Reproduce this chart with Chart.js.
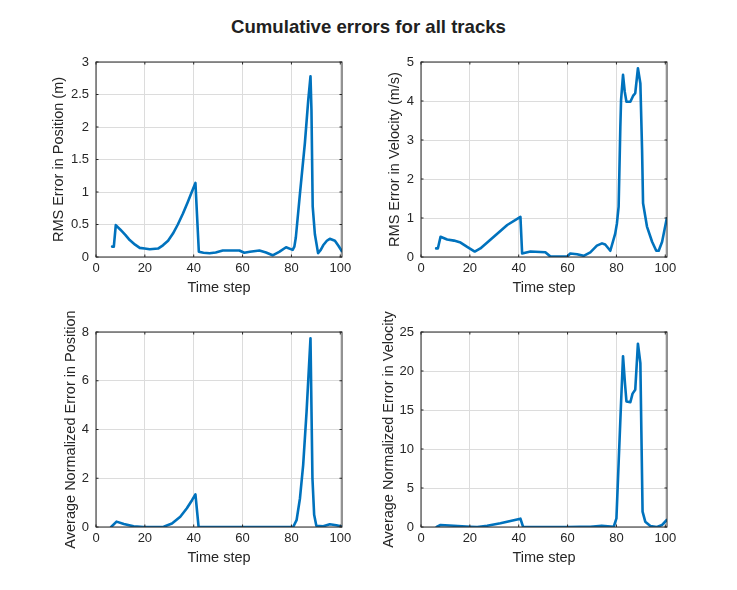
<!DOCTYPE html>
<html>
<head>
<meta charset="utf-8">
<script src="https://cdn.jsdelivr.net/npm/chart.js@4.4.1/dist/chart.umd.min.js"></script>
<style>
  body { margin: 0; background: #fff; width: 737px; height: 590px; position: relative; overflow: hidden;
         font-family: "Liberation Sans", Arial, Helvetica, sans-serif; }
  #title { position: absolute; left: 0; top: 16px; width: 737px; line-height: 22px; text-align: center;
           font-weight: bold; font-size: 18.6px; color: #212121; }
  canvas { position: absolute; }
</style>
</head>
<body>
<div id="title">Cumulative errors for all tracks</div>
<canvas id="posRms" width="320" height="270" style="left:40px;top:32px"></canvas>
<canvas id="velRms" width="320" height="270" style="left:365px;top:32px"></canvas>
<canvas id="posNees" width="320" height="270" style="left:40px;top:302px"></canvas>
<canvas id="velNees" width="320" height="270" style="left:365px;top:302px"></canvas>
<script>
// ---- data ----
const xTicks = [0, 20, 40, 60, 80, 100];
const posRmsTicks = [0, 0.5, 1, 1.5, 2, 2.5, 3];
const velRmsTicks = [0, 1, 2, 3, 4, 5];
const posNeesTicks = [0, 2, 4, 6, 8];
const velNeesTicks = [0, 5, 10, 15, 20, 25];

// RMS error in position
const posRmsT = [6.6, 7.3, 8.1, 10, 12, 13.8, 16, 17.9, 19.9, 22, 25.4, 27.4, 29.5, 31.5, 33.5, 35.6, 37.5, 39, 40.7,
                 42.1, 44, 46.5, 49, 51.9, 55, 58.7, 60.7, 63, 66.9, 69.6, 72.3, 75, 77.8, 80.5,
                 81.2, 81.8, 83.5, 85.5, 86.9, 87.8, 88.2, 88.7, 89.6, 90.9, 92, 93, 94.5, 95.7, 97.8, 99.3, 100.6];
const posRmsV = [0.16, 0.16, 0.49, 0.42, 0.34, 0.26, 0.19, 0.14, 0.13, 0.12, 0.13, 0.18, 0.25, 0.36, 0.5, 0.67, 0.84, 0.98, 1.14,
                 0.08, 0.065, 0.057, 0.07, 0.1, 0.1, 0.1, 0.066, 0.08, 0.1, 0.07, 0.026, 0.08, 0.15, 0.11,
                 0.16, 0.3, 0.98, 1.75, 2.42, 2.78, 2.26, 0.78, 0.35, 0.06, 0.11, 0.18, 0.25, 0.28, 0.25, 0.17, 0.09];

// RMS error in velocity
const velRmsT = [6.2, 6.9, 8.0, 10.7, 13.5, 16.2, 18.9, 22, 24.3, 29.8, 35.3, 40.7, 41.4, 44.8, 50.9, 53,
                 59.8, 61.1, 63.9, 66.6, 69.3, 72, 74.1, 75.4, 77.5, 79.5, 80.2, 80.9, 81.6, 81.9, 82.7,
                 83.4, 84.1, 85.7, 86.8, 87.7, 88.8, 89.8, 90.5, 90.9, 92.5, 94.6, 96.3, 97.3, 98.7, 100.6];
const velRmsV = [0.22, 0.22, 0.52, 0.45, 0.42, 0.37, 0.26, 0.14, 0.22, 0.52, 0.82, 1.03, 0.09, 0.14, 0.12, 0.01,
                 0.01, 0.09, 0.07, 0.03, 0.12, 0.29, 0.35, 0.32, 0.16, 0.6, 0.86, 1.29, 3.34, 4.03, 4.67,
                 4.24, 3.98, 3.98, 4.13, 4.2, 4.84, 4.45, 2.74, 1.38, 0.78, 0.39, 0.16, 0.16, 0.39, 0.99];

// average normalized error in position
const posNeesT = [6.2, 8.4, 11.4, 15.4, 19.5, 23.5, 27.7, 31.1, 34.5, 37.2, 39.3, 40.7, 42, 50, 60, 70,
                  80.7, 82.1, 83.5, 84.8, 86.2, 87.8, 88.6, 89.3, 90.2, 93, 95.7, 98.4, 100.6];
const posNeesV = [0, 0.22, 0.12, 0.03, 0, 0, 0.01, 0.14, 0.42, 0.77, 1.1, 1.34, 0, 0, 0, 0,
                  0, 0.28, 1.18, 2.54, 4.73, 7.74, 2.0, 0.5, 0.05, 0.03, 0.11, 0.07, 0.02];

// average normalized error in velocity
const velNeesT = [6.4, 8, 13.4, 20.2, 23, 27.1, 32.5, 36.6, 40.7, 41.8, 50, 59.8, 65, 69.3, 74, 78.9,
                  80, 80.9, 81.9, 82.7, 83.5, 84.1, 85.7, 86.6, 87.7, 88.8, 89.8, 90.2, 90.7, 91.8,
                  93.9, 96.6, 98.7, 100.6];
const velNeesV = [0, 0.26, 0.17, 0.04, 0, 0.17, 0.47, 0.77, 1.07, 0, 0, 0, 0.02, 0.04, 0.17, 0.04,
                  1.1, 8.2, 16, 21.9, 18.4, 16.1, 16, 17.1, 17.6, 23.5, 21, 12.4, 1.96, 0.68,
                  0.13, 0, 0.26, 0.9];

// ---- styling ----
const FONT = "'Liberation Sans', Arial, Helvetica, sans-serif";
const INK = '#262626';
const LINE = '#0072BD';
const GRID = '#dcdcdc';

// box round the axes plus the little inward tick marks
const boxFrame = {
  id: 'boxFrame',
  afterDraw(chart) {
    const { ctx, chartArea: a, scales: { x, y } } = chart;
    const L = 2.5;
    ctx.save();
    ctx.strokeStyle = INK;
    ctx.lineWidth = 1;
    ctx.beginPath();
    x.ticks.forEach(t => {
      const px = x.getPixelForValue(t.value);
      ctx.moveTo(px, a.bottom); ctx.lineTo(px, a.bottom - L);
      ctx.moveTo(px, a.top); ctx.lineTo(px, a.top + L);
    });
    y.ticks.forEach(t => {
      const py = y.getPixelForValue(t.value);
      ctx.moveTo(a.left, py); ctx.lineTo(a.left + L, py);
      ctx.moveTo(a.right, py); ctx.lineTo(a.right - L, py);
    });
    ctx.stroke();
    ctx.strokeRect(a.left, a.top, a.right - a.left, a.bottom - a.top);
    ctx.restore();
  }
};

function makePanel(id, t, v, yTicks, yTitle, yTitlePad) {
  const pts = t.map((tt, i) => ({ x: tt, y: v[i] }));
  return new Chart(document.getElementById(id), {
    type: 'line',
    data: {
      datasets: [{
        data: pts,
        borderColor: LINE,
        borderWidth: 2.6,
        pointRadius: 0,
        fill: false,
        tension: 0,
        borderJoinStyle: 'round',
        borderCapStyle: 'round'
      }]
    },
    options: {
      responsive: false,
      animation: false,
      events: [],
      layout: { padding: { top: 30, right: 18, bottom: 0, left: 0 } },
      plugins: { legend: { display: false }, tooltip: { enabled: false } },
      scales: {
        x: {
          type: 'linear',
          min: 0,
          max: 100.7,
          afterBuildTicks: s => { s.ticks = xTicks.map(value => ({ value })); },
          afterFit: s => { s.height = 45; },
          grid: { color: GRID, drawTicks: false },
          border: { display: false },
          ticks: { color: INK, padding: 4, maxRotation: 0, font: { family: FONT, size: 13 },
                   callback: val => String(val) },
          title: { display: true, text: 'Time step', color: INK, padding: { top: 0, bottom: 5 },
                   font: { family: FONT, size: 14.5 } }
        },
        y: {
          type: 'linear',
          min: yTicks[0],
          max: yTicks[yTicks.length - 1],
          afterBuildTicks: s => { s.ticks = yTicks.map(value => ({ value })); },
          afterFit: s => { s.width = 56; },
          grid: { color: GRID, drawTicks: false },
          border: { display: false },
          ticks: { color: INK, padding: 7, font: { family: FONT, size: 13 },
                   callback: val => String(val) },
          title: { display: true, text: yTitle, color: INK, padding: { top: yTitlePad, bottom: 0 },
                   font: { family: FONT, size: 14.5 } }
        }
      }
    },
    plugins: [boxFrame]
  });
}

makePanel('posRms', posRmsT, posRmsV, posRmsTicks, 'RMS Error in Position (m)', 10);
makePanel('velRms', velRmsT, velRmsV, velRmsTicks, 'RMS Error in Velocity (m/s)', 21);
makePanel('posNees', posNeesT, posNeesV, posNeesTicks, 'Average Normalized Error in Position', 22);
makePanel('velNees', velNeesT, velNeesV, velNeesTicks, 'Average Normalized Error in Velocity', 15);
</script>
</body>
</html>
